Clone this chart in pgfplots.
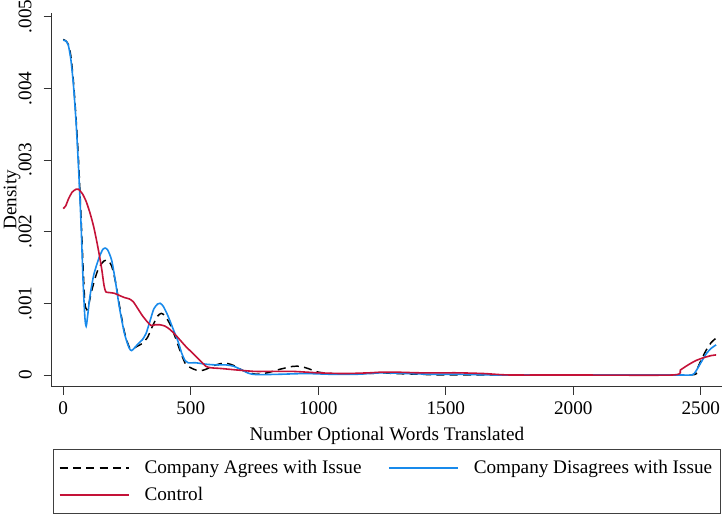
\documentclass[border=0pt]{standalone}
\usepackage{fontspec}
\setmainfont{Liberation Serif}
\usepackage{pgfplots}
\pgfplotsset{compat=1.18}
\definecolor{sblue}{RGB}{24,138,235}
\definecolor{sred}{RGB}{196,18,56}
\begin{document}
\fontsize{14.4}{17}\selectfont
\begin{tikzpicture}
\begin{axis}[
  scale only axis, width=502.7pt, height=280.3pt,
  xmin=-45, xmax=2583, ymin=-0.000163, ymax=0.00505,
  axis lines=left, axis line style={-, line width=0.6pt, black!80},
  xtick={0,500,1000,1500,2000,2500}, xticklabels={0,500,1000,1500,2000,2500},
  ytick={0,0.001,0.002,0.003,0.004,0.005}, yticklabels={0,.001,.002,.003,.004,.005},
  scaled y ticks=false, scaled x ticks=false,
  tick align=outside, major tick length=6pt, tick style={black!80, line width=0.6pt},
  yticklabel style={rotate=90, anchor=south, inner ysep=8.8pt},
  xlabel={Number Optional Words Translated}, ylabel={Density},
  ylabel style={at={(axis description cs:-0.0593,0.5)}, anchor=center, rotate=0},
  every axis label/.append style={font=\fontsize{14.4}{17}\selectfont},
  ticklabel style={font=\fontsize{14.4}{17}\selectfont},
  legend columns=2, legend cell align=left,
  legend style={at={(0.5,-0.1666)}, anchor=north, draw=black!75, line width=0.6pt,
    font=\fontsize{14.4}{17}\selectfont, inner xsep=4pt, inner ysep=6pt, row sep=4pt,
    /tikz/every even column/.append style={column sep=18pt}},
  legend image code/.code={\draw[#1] (0pt,0pt) -- (52pt,0pt); \path (61pt,0pt);},
  clip=false,
]
\addplot[black, line width=1.1pt, dash pattern=on 6pt off 4pt, smooth, tension=0.4] coordinates {
(0,0.00468) (10,0.00466) (20,0.00461) (30,0.00445) (40,0.00410) (50,0.0036) (60,0.0030) (70,0.0022)
(78,0.0015) (85,0.0010) (93,0.00091) (100,0.00098) (110,0.00115) (125,0.00135) (140,0.00150)
(160,0.00159) (175,0.00160) (190,0.00152) (205,0.00130) (220,0.00098) (240,0.00060) (260,0.00038)
(275,0.00037) (290,0.00040) (310,0.00044) (330,0.00052) (350,0.00068) (370,0.00082) (385,0.00086)
(400,0.00082) (420,0.00070) (440,0.00052) (460,0.00032) (480,0.00015) (500,0.00010) (520,0.00007)
(540,0.00006) (560,0.00008) (590,0.00013) (620,0.00016) (645,0.00016) (670,0.00013) (700,0.00007)
(730,0.00003) (760,0.00001) (800,0.00003) (850,0.00008) (900,0.00012) (930,0.00012) (960,0.00009)
(1000,0.00004) (1050,0.00002) (1100,0.00001) (1200,0.00002) (1250,0.00003) (1300,0.00002)
(1400,0.00001) (1500,0.0) (2000,0.0) (2450,0.0) (2480,0.00005) (2500,0.0002) (2520,0.00034)
(2540,0.00045) (2555,0.0005) (2560,0.00051)
};
\addlegendentry{Company Agrees with Issue}
\addplot[sblue, line width=1.2pt, smooth, tension=0.4] coordinates {
(0,0.00467) (10,0.00466) (20,0.00460) (30,0.00440) (40,0.00405) (50,0.00355) (60,0.00290) (70,0.00210)
(78,0.00130) (85,0.00080) (90,0.00068) (95,0.00080) (105,0.00110) (120,0.00140) (140,0.00163)
(155,0.00175) (165,0.00177) (175,0.00174) (190,0.00160) (205,0.00130) (220,0.00095) (240,0.00058)
(258,0.00038) (268,0.00034) (280,0.00038) (295,0.00044) (310,0.00049) (325,0.00058) (340,0.00075)
(355,0.00092) (370,0.00099) (380,0.00100) (392,0.00096) (410,0.00083) (430,0.00065) (450,0.00047)
(465,0.00030) (478,0.00020) (490,0.00017) (520,0.00017) (560,0.00015) (600,0.00014) (640,0.00014)
(670,0.00012) (700,0.00007) (730,0.00002) (760,0.000005) (850,0.00001) (950,0.00002) (1050,0.00001)
(1150,0.00001) (1250,0.00003) (1350,0.00002) (1450,0.00001) (1550,0.00001) (1700,0.0) (2000,0.0)
(2400,0.0) (2465,0.0) (2480,0.00005) (2500,0.00017) (2520,0.00029) (2540,0.00037) (2560,0.00042)
};
\addlegendentry{Company Disagrees with Issue}
\addplot[sred, line width=1.2pt, smooth, tension=0.4] coordinates {
(0,0.00232) (10,0.00236) (20,0.00245) (35,0.00255) (50,0.00259) (60,0.00259) (75,0.00253)
(90,0.00242) (105,0.00226) (120,0.00206) (135,0.00180) (150,0.00150) (160,0.00125) (167,0.00116)
(180,0.00115) (200,0.00114) (220,0.00111) (240,0.00108) (260,0.00106) (275,0.00102) (290,0.00094)
(310,0.00083) (330,0.00074) (345,0.00069) (360,0.00070) (380,0.00070) (400,0.00068) (420,0.00063)
(440,0.00056) (460,0.00048) (480,0.00040) (500,0.00033) (520,0.00026) (540,0.00019) (560,0.00012)
(580,0.00010) (620,0.00009) (680,0.00007) (750,0.00005) (800,0.00005) (900,0.00005) (1000,0.00003)
(1100,0.00002) (1200,0.00003) (1250,0.00004) (1300,0.00004) (1400,0.00003) (1500,0.00003)
(1550,0.00003) (1650,0.00002) (1750,0.0) (2000,0.0) (2390,0.0) (2420,0.00007) (2450,0.00014)
(2480,0.0002) (2510,0.00024) (2540,0.00027) (2560,0.00028)
};
\addlegendentry{Control}
\end{axis}
\pgfresetboundingbox
\path[use as bounding box] (current axis.south west) ++(-38.8pt,-95.5pt) rectangle ++(541.5pt,385.5pt);
\end{tikzpicture}
\end{document}
